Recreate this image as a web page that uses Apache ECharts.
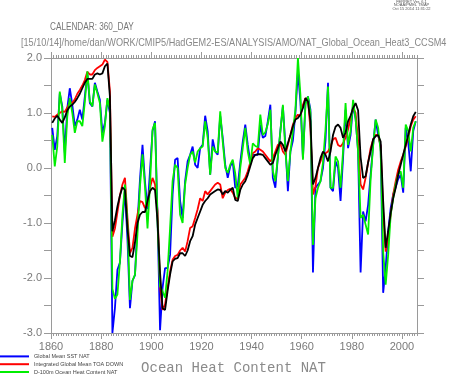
<!DOCTYPE html>
<html>
<head>
<meta charset="utf-8">
<script src="https://cdn.jsdelivr.net/npm/echarts@6/dist/echarts.min.js"></script>
<style>html,body{margin:0;padding:0;background:#fff}#c{width:450px;height:375px}</style>
</head>
<body>
<div id="c"></div>
<script>
const startYear = 1860;
const majorYears = [1860, 1880, 1900, 1920, 1940, 1960, 1980, 2000];
const yTicks = [-3, -2, -1, 0, 1, 2];
const seriesNames = ['Global Mean SST NAT', 'Integrated Global Mean TOA DOWN', 'D-100m Ocean Heat Content NAT', 'Integrated Global Mean (black)'];

const sstBlue = [0.73,0.33,0.58,1.36,1.12,0.28,1.09,1.45,1.15,0.76,
0.88,1.06,0.88,1.3,1.72,1.18,1.12,1.55,1.39,1.24,
0.64,0.82,1.24,1.0,-3.0,-2.55,-1.85,-1.72,-1.0,-0.4,
-1.3,-2.55,-2.05,-1.95,-1.0,-0.2,0.42,-0.25,-0.75,-0.05,
0.67,0.85,-0.9,-2.95,-2.18,-1.82,-1.82,-1.58,-0.48,0.15,
0.18,-0.6,-0.91,-0.24,0.12,0.24,0.39,0.06,0.0,0.36,
0.42,0.95,0.67,-0.12,0.52,0.3,0.24,0.95,0.55,0.06,
-0.18,0.03,0.12,-0.36,-0.33,0.1,0.48,0.79,0.42,0.1,
0.24,0.24,0.24,0.79,0.55,0.58,0.85,1.15,-0.18,-0.36,
0.2,0.67,1.12,0.42,-0.42,0.3,0.5,1.0,1.75,1.2,
0.18,1.18,1.3,1.06,-1.9,-0.36,-0.3,-0.24,0.0,0.5,
1.55,-0.36,-0.42,0.12,0.0,-0.6,0.18,1.06,0.36,0.6,
1.15,0.9,0.3,-1.9,-0.79,-0.97,-0.67,-0.12,0.42,0.88,
0.6,0.4,-2.27,-1.82,-1.15,-0.73,-0.48,-0.35,-0.2,-0.12,
-0.45,0.73,0.48,-0.06,0.67,0.85];

const toaRed = [0.94,0.93,0.97,1.0,1.03,1.02,1.1,1.2,1.18,1.25,
1.35,1.42,1.5,1.6,1.75,1.7,1.7,1.78,1.82,1.85,
1.88,1.97,1.93,1.4,-1.25,-1.1,-0.8,-0.5,-0.3,-0.18,
-0.9,-1.55,-1.45,-1.1,-0.85,-0.6,-0.62,-0.73,-0.67,-0.36,
-0.18,-0.3,-0.79,-2.15,-2.58,-2.48,-2.18,-1.88,-1.67,-1.6,
-1.58,-1.5,-1.45,-1.52,-1.33,-1.09,-1.06,-0.91,-0.75,-0.55,
-0.6,-0.42,-0.48,-0.42,-0.36,-0.3,-0.27,-0.3,-0.55,-0.45,
-0.4,-0.38,-0.45,-0.55,-0.55,-0.3,-0.24,-0.18,-0.06,0.1,
0.27,0.3,0.36,0.33,0.3,0.24,0.18,0.12,0.18,0.3,
0.42,0.44,0.3,0.24,0.42,0.6,0.79,0.91,0.97,0.94,
1.15,1.27,1.24,0.7,-0.48,-0.33,0.0,0.12,0.24,0.27,
0.3,0.39,0.52,0.55,0.42,0.39,0.45,0.55,0.7,0.91,
1.09,1.0,0.5,-0.3,-0.39,-0.18,0.1,0.36,0.52,0.6,
0.6,0.4,-0.8,-1.52,-1.27,-0.85,-0.48,-0.24,-0.03,0.12,
0.24,0.39,0.55,0.76,0.88,0.94];

const ohcGreen = [0.6,0.03,0.39,1.39,1.06,0.09,0.94,1.27,1.0,0.64,
0.85,0.85,0.76,1.2,1.76,1.21,1.12,1.52,1.36,1.18,
0.48,0.76,1.27,1.06,-2.2,-2.38,-2.3,-1.7,-0.85,-0.3,
-1.0,-2.4,-2.05,-1.94,-1.2,-0.33,0.25,-0.35,-1.1,-0.3,
0.7,0.82,-1.0,-2.15,-2.24,-2.36,-1.88,-1.09,-0.24,0.06,
0.0,-0.85,-1.0,-0.3,0.0,0.24,0.3,0.1,0.3,0.36,
0.39,0.85,0.55,-0.12,0.39,0.3,0.28,1.03,0.48,0.0,
-0.09,0.06,0.15,-0.1,-0.55,0.0,0.36,0.73,0.3,0.06,
0.45,0.4,0.38,0.97,0.6,0.65,0.8,1.06,-0.06,-0.24,
0.2,0.67,1.15,0.3,-0.24,0.3,0.67,1.06,2.0,1.33,
0.15,1.15,1.3,1.0,-1.4,-0.55,-0.36,-0.24,0.1,0.7,
1.48,-0.36,-0.36,0.21,0.12,-0.36,0.3,1.18,0.42,0.67,
1.24,0.9,0.3,-0.91,-0.85,-1.03,-1.21,-0.2,0.4,0.88,
0.73,0.3,-1.52,-2.12,-1.58,-0.85,-0.55,-0.3,-0.12,-0.06,
-0.36,0.79,0.67,0.3,0.73,0.85];

const blackSeries = [0.82,0.9,0.95,0.88,0.82,0.92,1.05,1.12,1.15,1.2,
1.27,1.35,1.45,1.55,1.62,1.62,1.62,1.7,1.72,1.7,
1.72,1.85,1.9,1.3,-1.15,-0.95,-0.7,-0.5,-0.35,-0.4,
-1.1,-1.6,-1.62,-1.35,-1.0,-0.85,-0.8,-0.8,-0.6,-0.42,
-0.36,-0.4,-0.97,-1.9,-2.55,-2.58,-2.24,-1.94,-1.7,-1.65,
-1.64,-1.55,-1.55,-1.6,-1.5,-1.33,-1.24,-1.03,-0.91,-0.79,
-0.67,-0.6,-0.55,-0.48,-0.45,-0.42,-0.39,-0.4,-0.48,-0.42,
-0.45,-0.4,-0.36,-0.58,-0.6,-0.4,-0.3,-0.24,-0.12,0.03,
0.18,0.24,0.25,0.25,0.24,0.18,0.12,0.06,0.09,0.24,
0.36,0.48,0.42,0.3,0.45,0.6,0.76,0.88,0.91,0.97,
1.09,1.27,1.21,0.85,-0.3,-0.18,0.0,0.18,0.3,0.24,
0.12,0.3,0.6,0.75,0.79,0.73,0.55,0.64,0.85,0.95,
1.09,1.18,1.05,0.2,-0.18,-0.15,0.1,0.3,0.52,0.58,
0.6,0.48,-0.6,-1.45,-1.15,-0.82,-0.55,-0.36,-0.12,0.06,
0.24,0.42,0.6,0.79,0.94,1.02];

function pairs(vals) {
  return vals.map((v, i) => [startYear + i + 0.5, v]);
}

const chart = echarts.init(document.getElementById('c'), null, {renderer: 'canvas'});
const axisCol = '#9a9a9a';
const labCol = '#7a7a7a';
const common = {min: 1860, max: 2006, splitLine: {show: false}, scale: false};

const option = {
  animation: false,
  backgroundColor: '#fff',
  grid: {left: 51, top: 58, width: 366, height: 275, containLabel: false},
  xAxis: [
    Object.assign({type: 'value', position: 'bottom', interval: 20,
      axisLine: {show: true, onZero: false, lineStyle: {color: axisCol, width: 1}},
      axisTick: {show: true, length: 6, customValues: majorYears, lineStyle: {color: axisCol}},
      axisLabel: {show: true, customValues: majorYears, color: labCol, fontSize: 11, margin: 8, fontFamily: 'Liberation Sans',
        formatter: v => String(v)}}, common),
    Object.assign({type: 'value', position: 'bottom', interval: 1,
      axisLine: {show: false, onZero: false},
      axisTick: {show: true, length: 3, lineStyle: {color: axisCol}},
      axisLabel: {show: false}}, common),
    Object.assign({type: 'value', position: 'top', interval: 20,
      axisLine: {show: true, onZero: false, lineStyle: {color: axisCol, width: 1}},
      axisTick: {show: true, length: 6, customValues: majorYears, lineStyle: {color: axisCol}},
      axisLabel: {show: false}}, common),
    Object.assign({type: 'value', position: 'top', interval: 1,
      axisLine: {show: false, onZero: false},
      axisTick: {show: true, length: 3, lineStyle: {color: axisCol}},
      axisLabel: {show: false}}, common)
  ],
  yAxis: [
    {type: 'value', position: 'left', min: -3, max: 2, interval: 0.5,
      splitLine: {show: false},
      axisLine: {show: true, onZero: false, lineStyle: {color: axisCol, width: 1}},
      axisTick: {show: true, length: 7, lineStyle: {color: axisCol}},
      axisLabel: {show: true, customValues: yTicks, color: labCol, fontSize: 11, margin: 9, fontFamily: 'Liberation Sans',
        formatter: v => Number(v).toFixed(1)}},
    {type: 'value', position: 'right', min: -3, max: 2, interval: 0.5,
      splitLine: {show: false},
      axisLine: {show: true, onZero: false, lineStyle: {color: axisCol, width: 1}},
      axisTick: {show: true, length: 7, lineStyle: {color: axisCol}},
      axisLabel: {show: false}}
  ],
  legend: {
    data: seriesNames.slice(0, 3),
    orient: 'vertical', left: 0, top: 352.5, height: 40, width: 200, padding: 0,
    itemWidth: 29, itemHeight: 2, itemGap: 0, icon: 'rect',
    selectedMode: false,
    textStyle: {fontSize: 5.5, lineHeight: 7.8, color: '#444', fontFamily: 'Liberation Sans', padding: [0, 0, 0, 0]}
  },
  graphic: [
    {type: 'text', x: 411.5, y: 1.8, style: {text: 'FERRET Ver. 6.1', font: '4px Liberation Sans', fill: '#555', align: 'center', verticalAlign: 'middle'}},
    {type: 'text', x: 411.5, y: 5.3, style: {text: 'NOAA/PMEL TMAP', font: '4px Liberation Sans', fill: '#555', align: 'center', verticalAlign: 'middle'}},
    {type: 'text', x: 411.5, y: 9.3, style: {text: 'Oct 15 2014 11:31:22', font: '4px Liberation Sans', fill: '#555', align: 'center', verticalAlign: 'middle'}},
    {type: 'text', x: 50, y: 27, scaleX: 0.82, style: {text: 'CALENDAR: 360_DAY', font: '10px Liberation Sans', fill: '#777', align: 'left', verticalAlign: 'middle'}},
    {type: 'text', x: 21, y: 42.5, scaleX: 0.83, style: {text: '[15/10/14]/home/dan/WORK/CMIP5/HadGEM2-ES/ANALYSIS/AMO/NAT_Global_Ocean_Heat3_CCSM4', font: '11px Liberation Sans', fill: '#888', align: 'left', verticalAlign: 'middle'}},
    {type: 'text', x: 233.5, y: 368.5, style: {text: 'Ocean Heat Content NAT', font: '14px Liberation Mono', fill: '#8a8a8a', align: 'center', verticalAlign: 'middle'}}
  ],
  series: [
    {name: seriesNames[0], type: 'line', data: pairs(sstBlue), symbol: 'none', color: '#0000ff', lineStyle: {color: '#0000ff', width: 1.8}, xAxisIndex: 0, yAxisIndex: 0, z: 2},
    {name: seriesNames[1], type: 'line', data: pairs(toaRed), symbol: 'none', color: '#ff0000', lineStyle: {color: '#ff0000', width: 1.8}, xAxisIndex: 0, yAxisIndex: 0, z: 3},
    {name: seriesNames[2], type: 'line', data: pairs(ohcGreen), symbol: 'none', color: '#00ee00', lineStyle: {color: '#00ee00', width: 1.8}, xAxisIndex: 0, yAxisIndex: 0, z: 4},
    {name: seriesNames[3], type: 'line', data: pairs(blackSeries), symbol: 'none', color: '#000000', lineStyle: {color: '#000000', width: 1.8}, xAxisIndex: 0, yAxisIndex: 0, z: 5}
  ]
};
chart.setOption(option);
</script>
</body>
</html>
